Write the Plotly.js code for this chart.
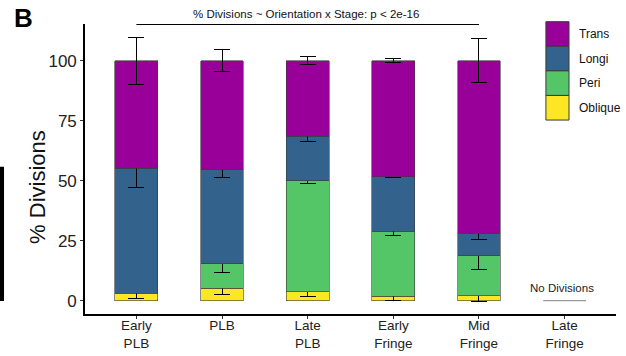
<!DOCTYPE html>
<html>
<head>
<meta charset="utf-8">
<script src="https://cdn.plot.ly/plotly-3.0.1.min.js"></script>
<style>html,body{margin:0;padding:0;background:#fff;}#chart{width:626px;height:356px;}</style>
</head>
<body>
<div id="chart"></div>
<script>
// ---- data ----
var categories = ["Early<br>PLB", "PLB", "Late<br>PLB", "Early<br>Fringe", "Mid<br>Fringe", "Late<br>Fringe"];
var seriesNames = ["Oblique", "Peri", "Longi", "Trans"];
var seriesColors = ["#FDE725", "#55C667", "#33638D", "#990099"];
var obliqueVals = [3.0, 5.2, 3.75, 1.8, 2.1, null];
var periVals    = [0, 10.2, 46.25, 27.1, 16.65, null];
var longiVals   = [52.2, 39.1, 18.6, 22.8, 9.35, null];
var transVals   = [44.8, 45.5, 31.4, 48.3, 71.9, null];
var obliqueErr  = [2.0, 2.6, 2.0, 1.9, 2.3, null];
var periErr     = [0, 3.9, 1.25, 1.9, 6.0, null];
var longiErr    = [8.0, 3.3, 2.4, 0.4, 2.7, null];
var transErr    = [9.8, 4.5, 1.6, 0.8, 9.25, null];
var yTicks = [0, 25, 50, 75, 100];
var yTitle = "% Divisions";
var testLabel = "% Divisions ~ Orientation x Stage: p &lt; 2e-16";
var emptyLabel = "No Divisions";

(function () {
  var values = [obliqueVals, periVals, longiVals, transVals];
  var errs = [obliqueErr, periErr, longiErr, transErr];
  var FONT = "Liberation Sans, Arial, sans-serif";
  var catPos = categories.map(function (c, i) { return i; });

  var traces = seriesNames.map(function (name, i) {
    var xs = [], ys = [], es = [];
    for (var j = 0; j < categories.length; j++) {
      var v = values[i][j];
      if (v !== null && v > 0) { xs.push(catPos[j]); ys.push(v); es.push(errs[i][j]); }
    }
    return {
      type: "bar",
      name: name,
      x: xs,
      y: ys,
      width: 0.5,
      marker: { color: seriesColors[i], line: { color: "#3a3a3a", width: 0.6 } },
      error_y: { type: "data", array: es, visible: true, color: "#000", thickness: 1, width: 8 },
      showlegend: false
    };
  });

  // custom legend (top to bottom: Trans, Longi, Peri, Oblique)
  var shapes = [];
  var annotations = [];
  var lgX0 = 0.868, lgX1 = 0.9115, lgTop = 1.008, lgStep = 0.0848;
  for (var k = 0; k < seriesNames.length; k++) {
    var idx = seriesNames.length - 1 - k;
    var boxTop = lgTop - k * lgStep;
    shapes.push({ type: "rect", xref: "paper", yref: "paper", x0: lgX0, x1: lgX1, y0: boxTop - lgStep, y1: boxTop,
      fillcolor: seriesColors[idx], line: { color: "#3a3a3a", width: 1 } });
    annotations.push({ xref: "paper", yref: "paper", x: lgX1 + 0.015, y: boxTop - lgStep / 2, xanchor: "left", yanchor: "middle",
      text: seriesNames[idx], showarrow: false, font: { family: FONT, size: 12, color: "#111" } });
  }

  // y-axis title
  annotations.push({ xref: "paper", yref: "paper", x: -0.0895, y: 0.44, xanchor: "center", yanchor: "middle",
    textangle: -90, text: yTitle, showarrow: false, font: { family: FONT, size: 22, color: "#111" } });

  // significance line and label
  shapes.push({ type: "line", xref: "x", yref: "y", x0: 0, x1: 4, y0: 115.2, y1: 115.2, line: { color: "#000", width: 1.5 } });
  annotations.push({ xref: "x", yref: "paper", x: 1.98, y: 1.008, yanchor: "bottom", text: testLabel, showarrow: false,
    font: { family: FONT, size: 11.5, color: "#111" } });

  // no divisions marker
  shapes.push({ type: "line", xref: "x", yref: "y", x0: 4.75, x1: 5.25, y0: 0, y1: 0, line: { color: "#999", width: 1.2 } });
  annotations.push({ xref: "x", yref: "y", x: 4.97, y: 2, yanchor: "bottom", text: emptyLabel, showarrow: false,
    font: { family: FONT, size: 11.5, color: "#222" } });

  // panel letter
  annotations.push({ xref: "paper", yref: "paper", x: -0.137, y: 1.078, xanchor: "left", yanchor: "top", text: "<b>B</b>",
    showarrow: false, font: { family: FONT, size: 26, color: "#000" } });

  // neighbour-panel fragment on the left edge
  shapes.push({ type: "rect", xref: "paper", yref: "paper", x0: -0.161, x1: -0.1525, y0: 0.045, y1: 0.508,
    fillcolor: "#000", line: { width: 0 } });

  var layout = {
    width: 626, height: 356,
    margin: { l: 85, r: 10, t: 24, b: 42 },
    paper_bgcolor: "#fff", plot_bgcolor: "#fff",
    barmode: "stack",
    font: { family: FONT, color: "#111" },
    xaxis: {
      range: [-0.6, 5.6], tickvals: catPos, ticktext: categories, showgrid: false, zeroline: false,
      showline: true, linecolor: "#000", linewidth: 1.6,
      ticks: "outside", ticklen: 3, tickcolor: "#333", tickwidth: 1,
      ticklabelstandoff: -5,
      tickfont: { family: FONT, size: 13.5, color: "#222" }
    },
    yaxis: {
      range: [-5.6, 115.3], tickvals: yTicks, showgrid: false, zeroline: false,
      showline: true, linecolor: "#000", linewidth: 1.6,
      ticks: "outside", ticklen: 3, tickcolor: "#333", tickwidth: 1,
      tickfont: { family: FONT, size: 17, color: "#222" }
    },
    shapes: shapes,
    annotations: annotations
  };

  Plotly.newPlot("chart", traces, layout, { displayModeBar: false });
})();
</script>
</body>
</html>
